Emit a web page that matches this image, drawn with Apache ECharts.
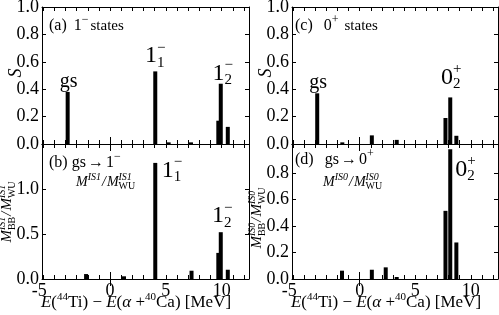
<!DOCTYPE html>
<html><head><meta charset="utf-8">
<script src="https://cdn.jsdelivr.net/npm/echarts@6/dist/echarts.min.js"></script>
<style>html,body{margin:0;padding:0;background:#fff}#c{width:499px;height:315px}</style>
</head><body><div id="c"></div>
<script>
// ---------------- data ----------------
const xMinorTicks = [-6,-5,-4,-3,-2,-1,0,1,2,3,4,5,6,7,8,9,10,11,12];
const xLabelValues = [-5, 0, 5, 10];
const yTicksS = [0, 0.2, 0.4, 0.6, 0.8, 1.0];
const yTicksM1 = [0, 0.5, 1.0];
const yTicksM0 = [0, 0.2, 0.4, 0.6, 0.8];

// (a) 1- states, spectroscopic factor S
const energiesA = [-3.8, 4.05, 5.25, 7.25, 9.7, 9.92, 10.55];
const valuesA   = [0.38, 0.53, 0.012, 0.012, 0.17, 0.44, 0.125];
// (b) gs -> 1-, M^IS1 / M_WU^IS1
const energiesB = [-2.15, 1.25, 4.05, 7.3, 9.7, 9.92, 10.55];
const valuesB   = [0.055, 0.03, 1.29, 0.092, 0.29, 0.52, 0.103];
// (c) 0+ states, S
const energiesC = [-3.83, -1.57, 1.09, 3.33, 7.72, 8.15, 8.7];
const valuesC   = [0.37, 0.012, 0.063, 0.03, 0.19, 0.34, 0.06];
// (d) gs -> 0+, M^IS0 / M_WU^IS0
const energiesD = [-1.6, 1.09, 2.34, 3.33, 7.72, 8.15, 8.7];
const valuesD   = [0.063, 0.07, 0.088, 0.015, 0.515, 0.98, 0.276];

// ---------------- helpers ----------------
const FONT = "'Liberation Serif', 'DejaVu Serif', serif";
const mctx = document.createElement('canvas').getContext('2d');
function tw(t, s, it) { mctx.font = (it ? 'italic ' : '') + s + 'px ' + FONT; return mctx.measureText(t).width; }
function txt(t, x, y, s, it) {
  return { type: 'text', x: x, y: y, silent: true,
    style: { text: t, fontSize: s, fontFamily: FONT, fontStyle: it ? 'italic' : 'normal', fill: '#000',
      align: 'left', verticalAlign: 'middle', textAlign: 'left', textVerticalAlign: 'middle' } };
}
function mathGroup(pieces, opt) {
  let x = 0; const ch = [];
  for (const p of pieces) {
    x += (p.pre || 0);
    if (p.stack) {
      const w1 = tw(p.sup, p.s, p.it), w2 = tw(p.sub, p.s, p.subIt);
      ch.push(txt(p.sup, x, p.supDy, p.s, p.it));
      ch.push(txt(p.sub, x, p.subDy, p.s, p.subIt));
      x += Math.max(w1, w2);
    } else {
      ch.push(txt(p.t, x, p.dy || 0, p.s, p.it));
      x += tw(p.t, p.s, p.it);
    }
    x += (p.gap || 0);
  }
  const off = opt.align === 'center' ? -x / 2 : (opt.align === 'right' ? -x : 0);
  ch.forEach(c => { c.x += off; });
  return { type: 'group', x: opt.x, y: opt.y, rotation: opt.rotation || 0, silent: true, children: ch };
}

const grids = [
  { left: 42, top: 7, width: 207, height: 137 },   // a
  { left: 42, top: 144, width: 207, height: 135 }, // b
  { left: 292, top: 7, width: 206, height: 137 },  // c
  { left: 292, top: 144, width: 206, height: 135 } // d
];
const X_MIN = -6.1, X_MAX = 12.45;
const yMax = [1.0, 1.5, 1.0, 1.02];
const yTicks = [yTicksS, yTicksM1, yTicksS, yTicksM0];
const showX = [false, true, false, true];
const seriesData = [[energiesA, valuesA], [energiesB, valuesB], [energiesC, valuesC], [energiesD, valuesD]];

const line = { show: true, onZero: false, lineStyle: { color: '#000', width: 1 } };
const xAxis = [], yAxis = [], series = [];
grids.forEach((g, i) => {
  const base = { gridIndex: i, type: 'value', min: X_MIN, max: X_MAX, splitLine: { show: false } };
  xAxis.push(Object.assign({}, base, { position: 'bottom', axisLine: line,
    axisTick: { show: true, inside: true, length: 4, customValues: xMinorTicks, lineStyle: { color: '#000' } },
    axisLabel: { show: showX[i], customValues: xLabelValues, fontSize: 18, fontFamily: FONT, color: '#000', margin: 3,
      formatter: v => v === -5 ? '{n|-5}' : String(v),
      rich: { n: { fontSize: 18, fontFamily: FONT, color: '#000', padding: [0, 30, 0, 0] } } } }));
  xAxis.push(Object.assign({}, base, { position: 'top', axisLine: line,
    axisTick: { show: true, inside: true, length: 4, customValues: xMinorTicks, lineStyle: { color: '#000' } },
    axisLabel: { show: false } }));
  xAxis.push(Object.assign({}, base, { position: 'bottom', axisLine: { show: false },
    axisTick: { show: true, inside: true, length: 7, customValues: [0], lineStyle: { color: '#000' } },
    axisLabel: { show: false } }));
  xAxis.push(Object.assign({}, base, { position: 'top', axisLine: { show: false },
    axisTick: { show: true, inside: true, length: 7, customValues: [0], lineStyle: { color: '#000' } },
    axisLabel: { show: false } }));
  const yb = { gridIndex: i, type: 'value', min: 0, max: yMax[i], splitLine: { show: false } };
  yAxis.push(Object.assign({}, yb, { position: 'left', axisLine: line,
    axisTick: { show: true, inside: true, length: 4, customValues: yTicks[i], lineStyle: { color: '#000' } },
    axisLabel: { customValues: yTicks[i], fontSize: 18, fontFamily: FONT, color: '#000', margin: 3,
      formatter: v => v.toFixed(1) } }));
  yAxis.push(Object.assign({}, yb, { position: 'right', axisLine: line,
    axisTick: { show: true, inside: true, length: 4, customValues: yTicks[i], lineStyle: { color: '#000' } },
    axisLabel: { show: false } }));
  const [E, V] = seriesData[i];
  series.push({ type: 'bar', xAxisIndex: i * 4, yAxisIndex: i * 2, barWidth: 4,
    itemStyle: { color: '#000' }, silent: true,
    data: E.map((e, k) => [e, V[k]]) });
});

const chart = echarts.init(document.getElementById('c'), null, { renderer: 'canvas' });
chart.setOption({
  animation: false, backgroundColor: '#fff',
  textStyle: { fontFamily: FONT },
  grid: grids.map(g => Object.assign({ containLabel: false, outerBoundsMode: 'none' }, g)),
  xAxis, yAxis, series
});

// ---------------- annotations ----------------
function px(gi, e, v) { return chart.convertToPixel({ gridIndex: gi }, [e, v]); }
const M = 24, SS = 15; // main / script size for state labels
const one = (sub) => [{ t: '1', s: M }, { stack: true, sup: '−', sub: sub, s: SS, supDy: -8, subDy: 7 }];
const zero = (sub) => [{ t: '0', s: M }, { stack: true, sup: '+', sub: sub, s: SS, supDy: -8, subDy: 7 }];
const G = [];
let p;
// (a)
p = px(0, energiesA[0], valuesA[0]); G.push(mathGroup([{ t: 'gs', s: 20 }], { x: p[0] + 1, y: p[1] - 10, align: 'center' }));
p = px(0, energiesA[1], valuesA[1]); G.push(mathGroup(one('1'), { x: p[0], y: p[1] - 15.5, align: 'center' }));
p = px(0, energiesA[5], valuesA[5]); G.push(mathGroup(one('2'), { x: p[0] + 2, y: p[1] - 10.5, align: 'center' }));
// (b)
p = px(1, energiesB[2], valuesB[2]); G.push(mathGroup(one('1'), { x: p[0] + 6.5, y: p[1] + 7.5, align: 'left' }));
p = px(1, energiesB[5], valuesB[5]); G.push(mathGroup(one('2'), { x: p[0] + 1.5, y: p[1] - 16, align: 'center' }));
// (c)
p = px(2, energiesC[0], valuesC[0]); G.push(mathGroup([{ t: 'gs', s: 20 }], { x: p[0] + 1, y: p[1] - 11, align: 'center' }));
p = px(2, energiesC[5], valuesC[5]); G.push(mathGroup(zero('2'), { x: p[0] + 1, y: p[1] - 20, align: 'center' }));
// (d)
p = px(3, energiesD[5], valuesD[5]); G.push(mathGroup(zero('2'), { x: p[0] + 5, y: p[1] + 20, align: 'left' }));

// panel titles
const T = 16;
const ga = grids[0], gb = grids[1], gc = grids[2], gd = grids[3];
G.push(mathGroup([{ t: '(a)', s: T, gap: 7 }, { t: '1', s: T }, { t: '−', s: 12, dy: -6, gap: 2 }, { t: 'states', s: 15 }],
  { x: ga.left + 7, y: ga.top + 19 }));
G.push(mathGroup([{ t: '(c)', s: T, gap: 11 }, { t: '0', s: T }, { t: '+', s: 12, dy: -6, gap: 6 }, { t: 'states', s: 15 }],
  { x: gc.left + 3, y: gc.top + 19 }));
G.push(mathGroup([{ t: '(b)', s: T, gap: 4 }, { t: 'gs', s: T, gap: 2 }, { t: '→', s: T, gap: 2 }, { t: '1', s: T }, { t: '−', s: 12, dy: -6 }],
  { x: gb.left + 7, y: gb.top + 19 }));
G.push(mathGroup([{ t: '(d)', s: T, gap: 11 }, { t: 'gs', s: T, gap: 2 }, { t: '→', s: T, gap: 2 }, { t: '0', s: T }, { t: '+', s: 12, dy: -6 }],
  { x: gd.left + 3, y: gd.top + 16 }));
const ratio = (n) => [{ t: 'M', s: 14, it: true }, { t: 'IS' + n, s: 10, it: true, dy: -5, gap: 1 }, { t: '/', s: 14, it: true, gap: 1 },
  { t: 'M', s: 14, it: true }, { stack: true, sup: 'IS' + n, sub: 'WU', s: 10, it: true, subIt: false, supDy: -5, subDy: 4 }];
G.push(mathGroup(ratio(1), { x: gb.left + 34, y: gb.top + 38 }));
G.push(mathGroup(ratio(0), { x: gd.left + 31, y: gd.top + 38 }));

// y-axis names
G.push(mathGroup([{ t: 'S', s: 18, it: true }], { x: ga.left - 26, y: ga.top + 66, rotation: Math.PI / 2, align: 'center' }));
G.push(mathGroup([{ t: 'S', s: 18, it: true }], { x: gc.left - 26, y: gc.top + 66, rotation: Math.PI / 2, align: 'center' }));
const yname = (n) => [{ t: 'M', s: 15, it: true }, { stack: true, sup: 'IS' + n, sub: 'BB', s: 10, it: true, subIt: false, supDy: -5, subDy: 5, gap: 1 },
  { t: '/', s: 15, it: true, gap: 1 }, { t: 'M', s: 15, it: true }, { stack: true, sup: 'IS' + n, sub: 'WU', s: 10, it: true, subIt: false, supDy: -5, subDy: 5 }];
G.push(mathGroup(yname(1), { x: gb.left - 35, y: gb.top + 68, rotation: Math.PI / 2, align: 'center' }));
G.push(mathGroup(yname(0), { x: gd.left - 35, y: gd.top + 74, rotation: Math.PI / 2, align: 'center' }));

// x-axis names
const xname = [{ t: 'E', s: 17, it: true }, { t: '(', s: 17 }, { t: '44', s: 11, dy: -6 }, { t: 'Ti', s: 17 }, { t: ') − ', s: 17 },
  { t: 'E', s: 17, it: true }, { t: '(', s: 17 }, { t: 'α', s: 17, it: true }, { t: ' +', s: 17 }, { t: '40', s: 11, dy: -6 },
  { t: 'Ca', s: 17 }, { t: ') [MeV]', s: 17 }];
G.push(mathGroup(xname, { x: gb.left + 94, y: gb.top + gb.height + 24, align: 'center' }));
G.push(mathGroup(xname, { x: gd.left + 94, y: gd.top + gd.height + 24, align: 'center' }));

chart.setOption({ graphic: { elements: G } });
</script></body></html>
